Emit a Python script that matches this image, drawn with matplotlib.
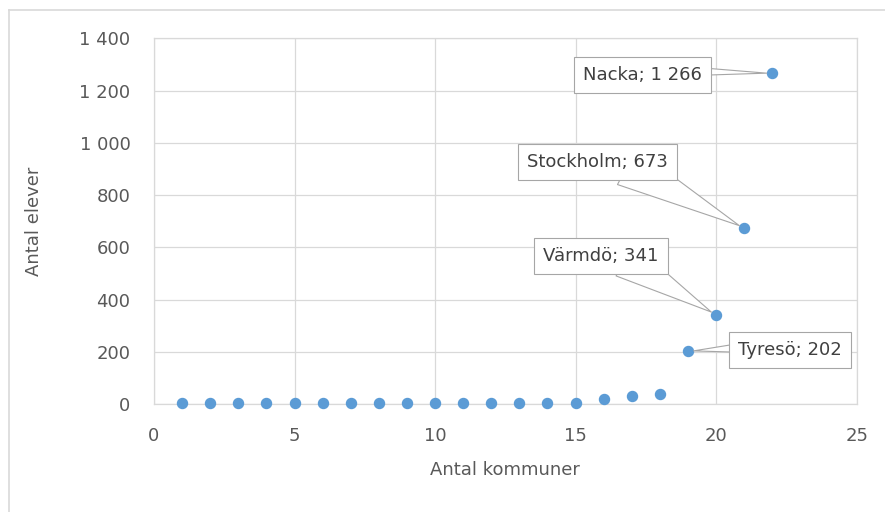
import matplotlib
matplotlib.use("Agg")
import matplotlib.pyplot as plt
from matplotlib.lines import Line2D

# Antal kommuner (x) vs antal elever (y)
kommuner = list(range(1, 23))
elever = [5, 5, 5, 5, 5, 5, 5, 5, 5, 5, 5, 5, 5, 5, 5, 19, 32, 37, 202, 341, 673, 1266]

# callouts: (index into data, label, offset px from point, relpos of wedge base, wedge width)
callouts = [
    (21, "Nacka; 1 266", (-130, -2), (0.93, 0.72), 0.6),
    (20, "Stockholm; 673", (-147, 66), (0.71, 0.25), 2.9),
    (19, "Värmdö; 341", (-115, 59), (0.71, 0.25), 2.6),
    (18, "Tyresö; 202", (102, 1), (0.06, 0.65), 0.7),
]

x_ticks = [0, 5, 10, 15, 20, 25]
y_ticks = [0, 200, 400, 600, 800, 1000, 1200, 1400]

GRID = "#d9d9d9"
TXT = "#595959"
BLUE = "#5b9bd5"

plt.rcParams["font.family"] = ["DejaVu Sans"]

fig = plt.figure(figsize=(8.85, 5.12), dpi=100)
ax = fig.add_axes([0.174, 0.2109, 0.794, 0.7143])

# outer chart border (only top/left visible in the crop)
fig.add_artist(Line2D([8.5 / 885, 8.5 / 885], [0, 1 - 10 / 512], color=GRID, lw=1.2))
fig.add_artist(Line2D([8.5 / 885, 1], [1 - 10 / 512, 1 - 10 / 512], color=GRID, lw=1.2))

ax.scatter(kommuner, elever, s=52, color=BLUE, zorder=3, clip_on=False)

ax.set_xlim(0, 25)
ax.set_ylim(0, 1400)
ax.set_xticks(x_ticks)
ax.set_yticks(y_ticks)
ax.set_yticklabels([f"{v:,}".replace(",", " ") for v in y_ticks])
ax.tick_params(length=0, labelsize=13, labelcolor=TXT)
ax.tick_params(axis="y", pad=17)
ax.tick_params(axis="x", pad=16.5)
ax.grid(True, color=GRID, lw=0.9)
ax.set_axisbelow(True)
for sp in ax.spines.values():
    sp.set_color(GRID)
    sp.set_linewidth(0.9)

ax.set_xlabel("Antal kommuner", fontsize=13, color=TXT)
ax.set_ylabel("Antal elever", fontsize=13, color=TXT)
ax.xaxis.set_label_coords(0.5, -0.156)
ax.yaxis.set_label_coords(-0.158, 0.5)

for idx, label, off, rel, tw in callouts:
    ax.annotate(
        label, xy=(kommuner[idx], elever[idx]), xytext=off,
        textcoords="offset pixels", ha="center", va="center",
        fontsize=13, color="#404040", zorder=5,
        bbox=dict(boxstyle="square,pad=0.5", fc="white", ec="#a6a6a6", lw=0.8),
        arrowprops=dict(arrowstyle=f"wedge,tail_width={tw},shrink_factor=0.5",
                        fc="white", ec="#a6a6a6", lw=0.8, relpos=rel,
                        patchA=None, shrinkA=0, shrinkB=4, mutation_scale=10),
    )

fig.savefig("out.png", dpi=100)
